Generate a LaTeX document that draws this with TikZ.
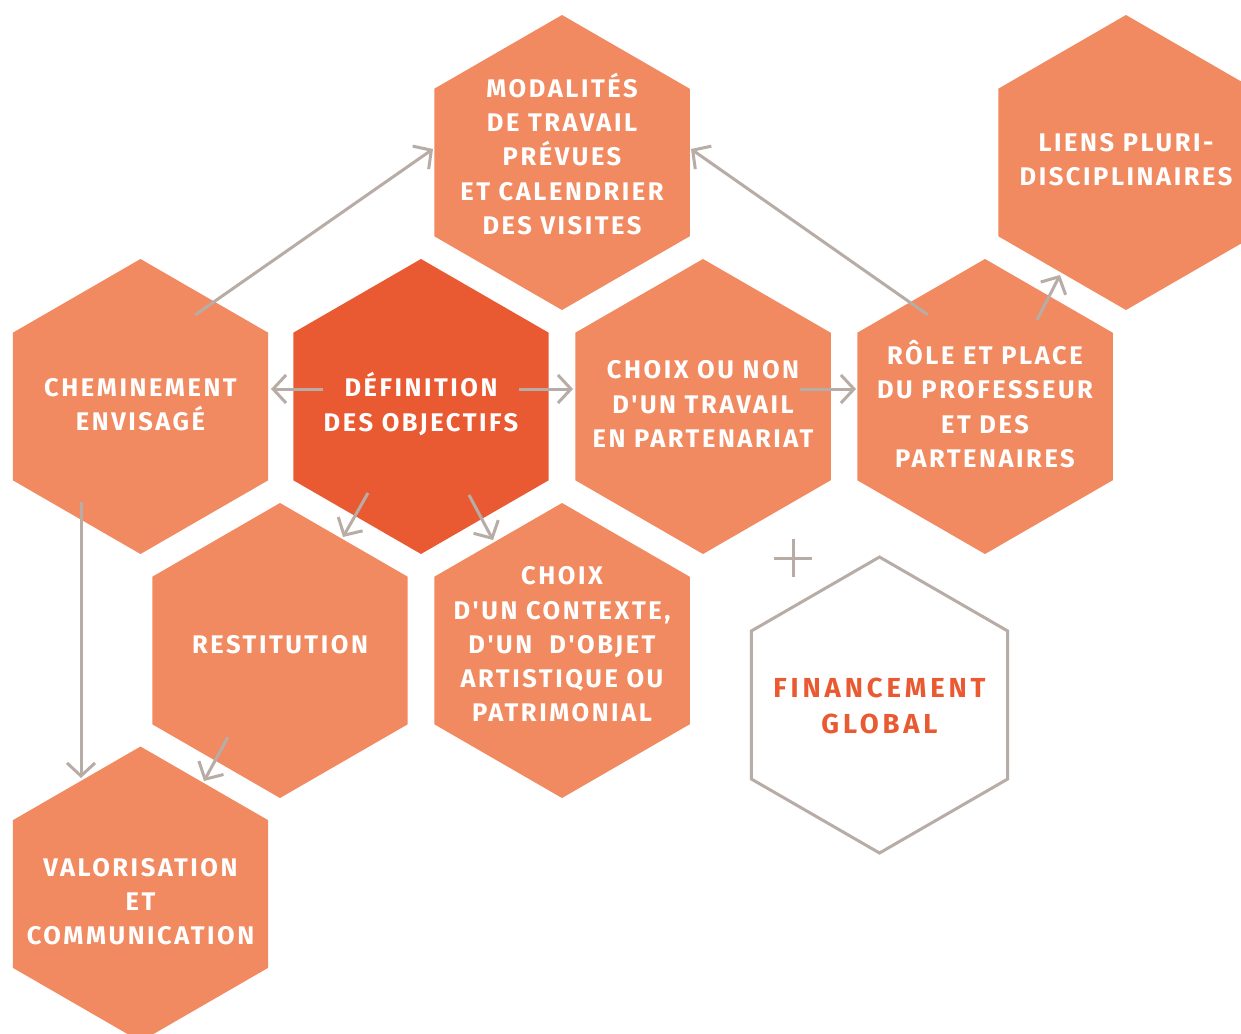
\documentclass[tikz,border=0pt]{standalone}
\usepackage{fontspec}
\setmainfont{Fira Sans}[LetterSpace=10,Ligatures=TeXOff]
\usetikzlibrary{shapes.geometric,arrows.meta}
\definecolor{lightor}{HTML}{F18A60}
\definecolor{darkor}{HTML}{EA5A32}
\definecolor{greyline}{HTML}{B8ACA7}
\tikzset{
  hexa/.style={regular polygon, regular polygon sides=6, shape border rotate=30,
    minimum size=295pt, inner sep=0pt, outer sep=0pt},
  hexlight/.style={hexa, fill=lightor},
  hexdark/.style={hexa, fill=darkor},
  hexline/.style={hexa, draw=greyline, line width=3pt, fill=white, minimum size=296pt},
  txt/.style={align=center, text=white, inner sep=0pt,
    font=\fontsize{25.5}{34.3}\selectfont\bfseries},
  bigtxt/.style={align=center, text=darkor, inner sep=0pt,
    font=\fontsize{27.5}{36}\selectfont\bfseries\addfontfeatures{LetterSpace=14}},
  arr/.style={draw=greyline, line width=3pt, -{Straight Barb[length=13pt,width=28pt]}},
  plus/.style={draw=greyline, line width=3pt}
}
\begin{document}
\begin{tikzpicture}[x=1pt,y=-1pt]
\clip (0,0) rectangle (1241,1033);
\fill[white] (0,0) rectangle (1241,1033);
% hexagons
\node[hexlight] (hmod) at (562,162.5) {};
\node[hexlight] (hlie) at (1126,162.5) {};
\node[hexlight] (hche) at (140.5,406.5) {};
\node[hexdark]  (hdef) at (421,406.5) {};
\node[hexlight] (hcho) at (703,406.5) {};
\node[hexlight] (hrol) at (985,406.5) {};
\node[hexlight] (hres) at (280,650.5) {};
\node[hexlight] (hctx) at (562,650.5) {};
\node[hexline]  (hfin) at (879.5,705) {};
\node[hexlight] (hval) at (140.5,894) {};
% texts
\node[txt] (tmod) at (562,154) {MODALITÉS\\DE TRAVAIL\\PRÉVUES\\ET CALENDRIER\\DES VISITES};
\node[txt] (tlie) at (1126,160) {LIENS PLURI-\\DISCIPLINAIRES};
\node[txt] (tche) at (140.5,404.5) {CHEMINEMENT\\ENVISAGÉ};
\node[txt] (tdef) at (421,404) {DÉFINITION\\DES OBJECTIFS};
\node[txt] (tcho) at (703,404) {CHOIX OU NON\\D'UN TRAVAIL\\EN PARTENARIAT};
\node[txt] (trol) at (985,404) {RÔLE ET PLACE\\DU PROFESSEUR\\ET DES\\PARTENAIRES};
\node[txt] (tres) at (280,645) {RESTITUTION};
\node[txt] (tctx) at (562,644.5) {CHOIX\\D'UN CONTEXTE,\\D'UN\ \ D'OBJET\\ARTISTIQUE OU\\PATRIMONIAL};
\node[bigtxt] (tfin) at (879.5,705.5) {FINANCEMENT\\GLOBAL};
\node[txt] (tval) at (140.5,901.5) {VALORISATION\\ET\\COMMUNICATION};
% arrow end points
\coordinate (a1s) at (195,315);  \coordinate (a1e) at (433,149);
\coordinate (a2s) at (928,315);  \coordinate (a2e) at (691,149);
\coordinate (a3s) at (1037,320); \coordinate (a3e) at (1060,275);
\coordinate (a4s) at (323,389);  \coordinate (a4e) at (271,389);
\coordinate (a5s) at (519,389);  \coordinate (a5e) at (573,389);
\coordinate (a6s) at (800,389);  \coordinate (a6e) at (856,389);
\coordinate (a7s) at (368,493);  \coordinate (a7e) at (343,537);
\coordinate (a8s) at (469,495);  \coordinate (a8e) at (493,540);
\coordinate (a9s) at (81,502);   \coordinate (a9e) at (81,778);
\coordinate (a10s) at (228,737); \coordinate (a10e) at (204,781);
\draw[arr] (a1s) -- (a1e);
\draw[arr] (a2s) -- (a2e);
\draw[arr] (a3s) -- (a3e);
\draw[arr] (a4s) -- (a4e);
\draw[arr] (a5s) -- (a5e);
\draw[arr] (a6s) -- (a6e);
\draw[arr] (a7s) -- (a7e);
\draw[arr] (a8s) -- (a8e);
\draw[arr] (a9s) -- (a9e);
\draw[arr] (a10s) -- (a10e);
% plus sign
\coordinate (pl) at (793,558);
\draw[plus] ([xshift=-19pt]pl) -- ([xshift=19pt]pl);
\draw[plus] ([yshift=-19pt]pl) -- ([yshift=19pt]pl);
\end{tikzpicture}
\end{document}
